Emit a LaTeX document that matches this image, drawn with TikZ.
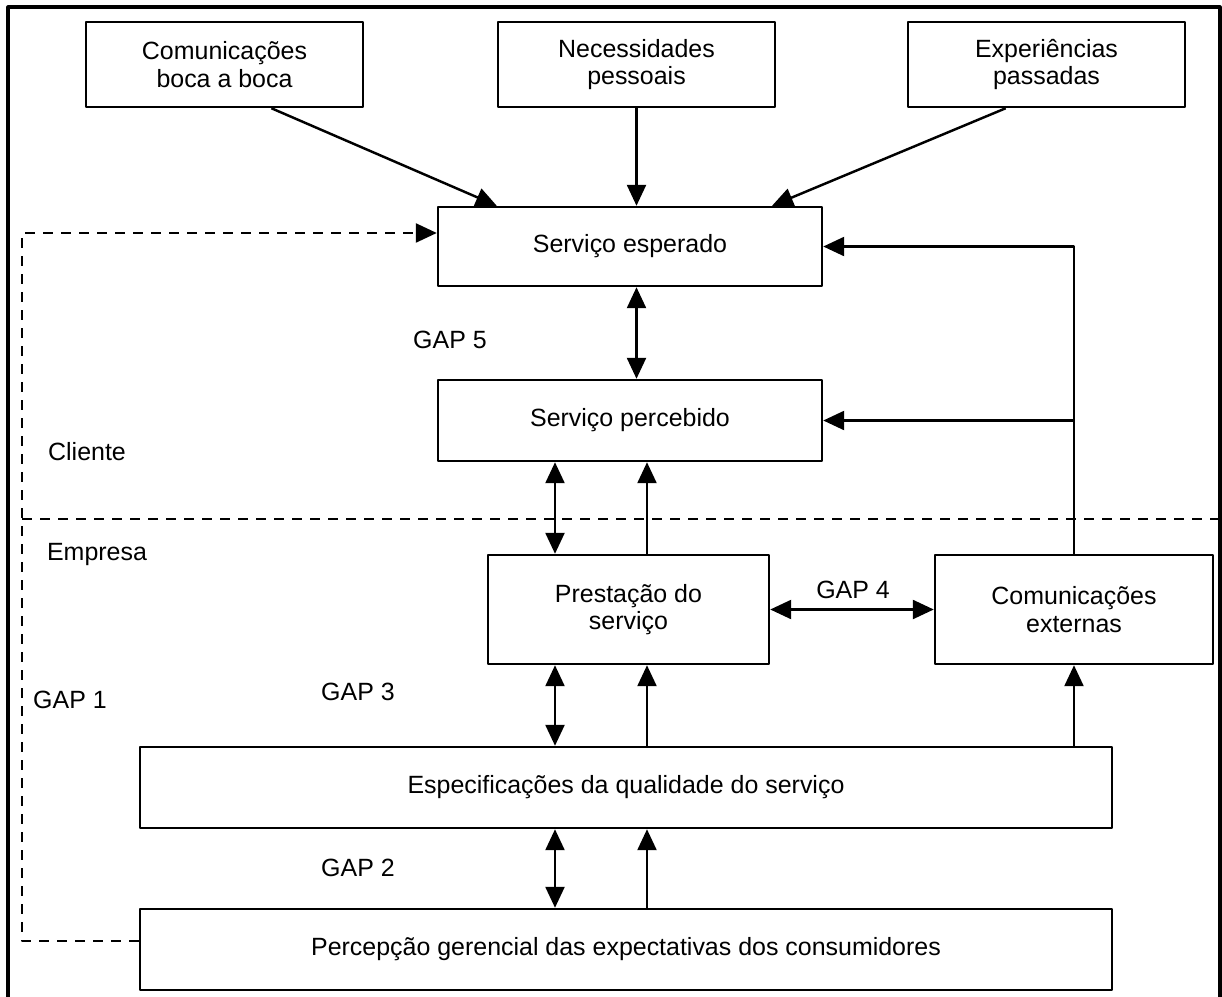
\documentclass[tikz,border=0pt]{standalone}
\usepackage{fontspec}
\setmainfont{Liberation Sans}
\usetikzlibrary{arrows.meta}
\begin{document}
\begin{tikzpicture} [line width=1.4pt, line join=round, font=\fontsize{14.2}{15.5}\selectfont, >={Triangle[length=0.42cm,width=0.38cm]},
 box/.style={draw, align=center, inner sep=0pt},
 top/.style={box, minimum width=5.54cm, minimum height=1.7cm},
 wide/.style={box, minimum width=19.44cm, minimum height=1.62cm},
 gapline/.style={dash pattern=on 0.2cm off 0.16cm}]
 \useasboundingbox (0,0) rectangle (24.44,-19.94);
 \draw[line width=1.8pt] (0.16,-19.94)--(0.16,-0.14)--(24.4,-0.14)--(24.4,-19.94);
 \node[top] (boca) at (4.49,-1.29) {Comunicações\\boca a boca};
 \node[top] (nec) at (12.73,-1.29) {Necessidades\\pessoais};
 \node[top] (exp) at (20.93,-1.29) {Experiências\\passadas};
 \node[box, minimum width=7.68cm, minimum height=1.58cm] (esperado) at (12.6,-4.93) {Serviço esperado};
 \node[box, minimum width=7.68cm, minimum height=1.62cm] (percebido) at (12.6,-8.41) {Serviço percebido};
 \node[box, minimum width=5.62cm, minimum height=2.18cm] (prest) at (12.57,-12.19) {Prestação do\\serviço};
 \node[box, minimum width=5.56cm, minimum height=2.18cm] (ext) at (21.48,-12.19) {Comunicações\\externas};
 \node[wide] (spec) at (12.52,-15.75) {Especificações da qualidade do serviço};
 \node[wide] (perc) at (12.52,-18.99) {Percepção gerencial das expectativas dos consumidores};
 \node (cliente) at (1.74,-9.04) {Cliente};
 \node (empresa) at (1.94,-11.08) {Empresa};
 \node (gap1) at (1.4,-14.0) {GAP 1};
 \node (gap2) at (7.16,-17.36) {GAP 2};
 \node (gap3) at (7.16,-13.84) {GAP 3};
 \node (gap4) at (17.06,-11.8) {GAP 4};
 \node (gap5) at (9.0,-6.8) {GAP 5};
 \coordinate (dl) at (11.1,0);
 \coordinate (ul) at (12.94,0);
 \coordinate (loop) at (0.44,0);
 \coordinate (divl) at (0.44,-10.38);
 \coordinate (divr) at (24.4,-10.38);
 \draw[->] (boca.-43)--(esperado.163);
 \draw[->] (nec.south)--(nec.south |- esperado.north);
 \draw[->] (exp.227)--(esperado.16);
 \draw[<->] (esperado.south -| nec.south)--(percebido.north -| nec.south);
 \draw[->] (ext.north) |- (esperado.east);
 \draw[->] (ext.north |- percebido.east)--(percebido.east);
 \draw[<->] (percebido.south -| dl)--(prest.north -| dl);
 \draw[->] (prest.north -| ul)--(percebido.south -| ul);
 \draw[<->] (prest.south -| dl)--(spec.north -| dl);
 \draw[->] (spec.north -| ul)--(prest.south -| ul);
 \draw[<->] (spec.south -| dl)--(perc.north -| dl);
 \draw[->] (perc.north -| ul)--(spec.south -| ul);
 \draw[->] (spec.north -| ext.north)--(ext.south);
 \draw[<->] (prest.east)--(ext.west);
 \draw[gapline, ->] (perc.179) -| (loop |- esperado.176)--(esperado.176);
 \draw[gapline] (divl)--(divr);
 \end{tikzpicture}
\end{document}
